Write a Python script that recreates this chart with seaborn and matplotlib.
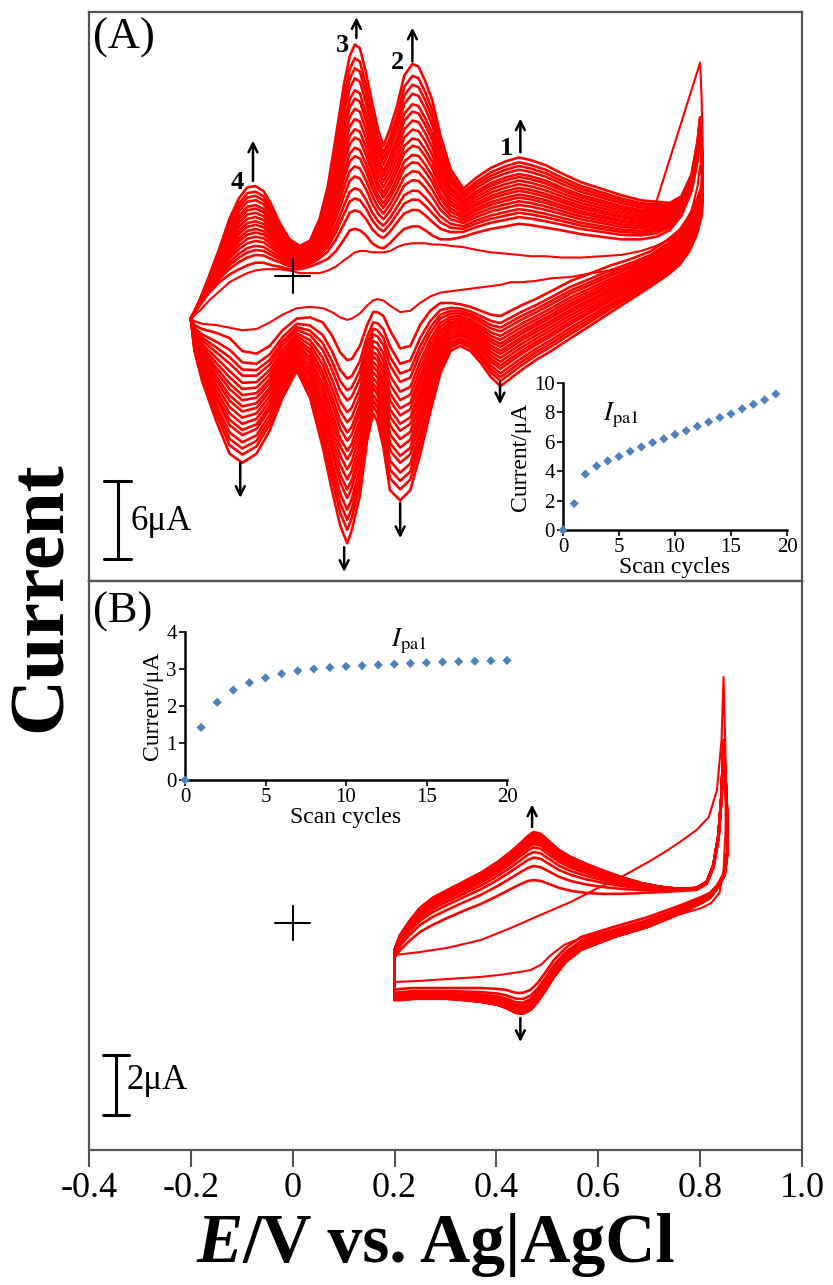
import numpy as np
import pandas as pd
import matplotlib
matplotlib.use('Agg')
import matplotlib.pyplot as plt
import seaborn as sns

# ---------------- Panel A (CV, 19 cycles) ----------------
A_an_E = [-0.200, -0.183, -0.164, -0.144, -0.124, -0.105, -0.089, -0.073, -0.057, -0.041,
          -0.026, -0.006, 0.014, 0.034, 0.053, 0.069, 0.085, 0.101, 0.112, 0.122,
          0.132, 0.144, 0.156, 0.168, 0.178, 0.191, 0.205, 0.219, 0.235, 0.247,
          0.260, 0.274, 0.290, 0.310, 0.335, 0.359, 0.389, 0.418, 0.444, 0.467,
          0.497, 0.527, 0.566, 0.606, 0.645, 0.684, 0.714, 0.740, 0.763, 0.783,
          0.795, 0.800]
A_an_last = [-3.3, -1.9, 0.0, 2.1, 4.4, 6.0, 6.8, 6.9, 6.5, 5.4,
             4.1, 2.8, 2.3, 2.7, 4.4, 6.9, 10.8, 14.8, 16.9, 17.8,
             17.5, 15.6, 13.3, 11.2, 10.0, 11.3, 13.1, 15.4, 16.3, 16.1,
             15.0, 13.5, 10.8, 8.2, 6.7, 7.5, 8.3, 8.8, 9.1, 8.9,
             8.5, 7.9, 7.2, 6.7, 6.2, 5.8, 5.7, 5.6, 6.1, 7.8,
             10.4, 12.2]
A_an_cyc2 = [-3.3, -2.3, -1.3, -0.5, 0.1, 0.5, 0.8, 1.0, 1.0, 0.8,
             0.7, 0.5, 0.5, 0.7, 1.0, 1.3, 1.9, 2.8, 3.5, 3.6,
             3.5, 3.1, 2.5, 2.2, 2.1, 2.5, 3.1, 3.6, 3.8, 3.8,
             3.5, 3.1, 2.8, 2.8, 3.0, 3.3, 3.6, 3.8, 4.0, 3.9,
             3.7, 3.5, 3.2, 3.0, 2.8, 2.8, 3.0, 3.5, 4.6, 6.5,
             8.8, 11.2]
A_an_cyc1 = [-3.3, -2.7, -1.9, -1.2, -0.5, -0.1, 0.2, 0.4, 0.5, 0.5,
             0.5, 0.4, 0.2, 0.2, 0.2, 0.4, 0.7, 1.2, 1.5, 1.8,
             1.9, 1.9, 1.8, 1.8, 1.8, 1.9, 2.2, 2.4, 2.5, 2.5,
             2.5, 2.4, 2.4, 2.3, 2.2, 2.0, 1.8, 1.7, 1.6, 1.5,
             1.5, 1.4, 1.4, 1.5, 1.6, 1.9, 2.3, 2.8, 3.6, 5.0,
             6.9, 8.5]
A_ca_E = [0.800, 0.803, 0.805, 0.803, 0.793, 0.779, 0.759, 0.734, 0.704, 0.665,
          0.625, 0.586, 0.546, 0.507, 0.477, 0.448, 0.428, 0.408, 0.389, 0.369,
          0.349, 0.329, 0.310, 0.290, 0.270, 0.250, 0.231, 0.211, 0.191, 0.178,
          0.166, 0.158, 0.146, 0.132, 0.116, 0.107, 0.093, 0.077, 0.059, 0.034,
          0.008, -0.020, -0.045, -0.071, -0.099, -0.124, -0.150, -0.178, -0.193, -0.200]
A_ca_last = [12.2, 9.6, 6.5, 4.6, 3.1, 1.9, 0.8, 0.0, -0.8, -1.8,
             -2.8, -3.8, -4.8, -5.8, -6.5, -7.3, -7.9, -8.5, -7.8, -6.7,
             -5.8, -5.4, -5.8, -7.5, -10.5, -13.8, -16.5, -17.3, -16.5, -13.2,
             -11.2, -10.6, -12.7, -16.9, -19.6, -20.6, -19.2, -16.5, -13.2, -9.4,
             -7.3, -9.4, -11.9, -13.7, -14.4, -13.7, -11.2, -8.1, -5.8, -3.3]
A_ca_cyc2 = [11.2, 10.0, 8.5, 6.9, 5.8, 4.6, 3.5, 2.7, 1.9, 1.3,
             0.8, 0.2, -0.4, -1.2, -1.8, -2.3, -2.7, -3.1, -3.0, -2.7,
             -2.4, -2.2, -2.1, -2.1, -2.7, -3.8, -5.4, -5.6, -4.2, -3.1,
             -2.8, -2.8, -3.8, -5.4, -6.4, -6.5, -5.9, -4.6, -3.6, -3.2,
             -3.3, -4.2, -5.4, -6.0, -5.8, -4.8, -4.4, -4.1, -3.8, -3.3]
A_ca_cyc1 = [8.5, 7.7, 6.5, 5.4, 4.2, 3.3, 2.3, 1.5, 1.0, 0.6,
             0.4, 0.2, -0.1, -0.2, -0.4, -0.5, -0.5, -0.7, -0.8, -0.9,
             -1.0, -1.1, -1.2, -1.3, -1.6, -2.1, -2.7, -2.8, -2.3, -1.9,
             -1.8, -1.9, -2.3, -2.9, -3.3, -3.4, -3.2, -2.8, -2.5, -2.4,
             -2.5, -3.0, -3.6, -4.1, -4.2, -4.0, -3.8, -3.7, -3.5, -3.3]
A_spike_E = [0.714, 0.800, 0.803, 0.805]
A_spike_I = [5.7, 16.4, 13.5, 9.6]

# inset A: Ipa1 vs scan cycles
A_cycles = list(range(0, 20))
A_ipa = [0, 1.8, 3.8, 4.35, 4.7, 5.0, 5.35, 5.65, 5.95, 6.2,
         6.5, 6.75, 7.05, 7.35, 7.65, 7.9, 8.25, 8.55, 8.85, 9.25]

# ---------------- Panel B (CV, 20 cycles) ----------------
B_an_E = [0.200, 0.200, 0.211, 0.231, 0.250, 0.274, 0.304, 0.335, 0.369, 0.402,
          0.428, 0.448, 0.462, 0.473, 0.487, 0.503, 0.523, 0.546, 0.576, 0.606,
          0.645, 0.684, 0.724, 0.763, 0.793, 0.813, 0.826, 0.836, 0.842, 0.846]
B_an_last = [-2.57, -0.90, -0.40, 0.10, 0.50, 0.83, 1.10, 1.37, 1.67, 2.03,
             2.37, 2.67, 2.90, 3.03, 2.97, 2.73, 2.43, 2.20, 1.97, 1.77,
             1.53, 1.33, 1.20, 1.13, 1.17, 1.37, 1.93, 2.93, 4.27, 6.10]
B_an_cyc2 = [-2.23, -1.17, -0.90, -0.57, -0.30, -0.07, 0.17, 0.40, 0.63, 0.90,
             1.13, 1.30, 1.40, 1.43, 1.40, 1.30, 1.17, 1.07, 1.00, 0.97,
             0.97, 1.00, 1.03, 1.07, 1.10, 1.30, 1.83, 2.77, 4.10, 5.43]
B_ca_E = [0.846, 0.852, 0.854, 0.848, 0.834, 0.819, 0.803, 0.763, 0.698, 0.631,
          0.566, 0.536, 0.513, 0.497, 0.481, 0.467, 0.452, 0.438, 0.418, 0.402,
          0.369, 0.335, 0.304, 0.270, 0.237, 0.211, 0.200]
B_ca_last = [6.10, 4.10, 2.43, 1.60, 1.17, 0.83, 0.67, 0.33, -0.13, -0.47,
             -0.90, -1.30, -1.80, -2.23, -2.63, -2.90, -3.03, -3.00, -2.83, -2.73,
             -2.63, -2.57, -2.53, -2.53, -2.53, -2.57, -2.57]
B_ca_cyc2 = [5.43, 3.77, 2.43, 1.70, 1.27, 1.00, 0.87, 0.60, 0.20, -0.13,
             -0.47, -0.83, -1.23, -1.63, -2.00, -2.23, -2.33, -2.33, -2.23, -2.20,
             -2.17, -2.17, -2.17, -2.17, -2.17, -2.20, -2.23]
B_cyc1_E = [0.200, 0.250, 0.304, 0.369, 0.428, 0.487, 0.546, 0.600, 0.645, 0.698,
            0.734, 0.763, 0.793, 0.817, 0.833, 0.842, 0.846, 0.850, 0.850, 0.846,
            0.838, 0.822, 0.803, 0.763, 0.698, 0.631, 0.566, 0.533, 0.507, 0.487,
            0.467, 0.448, 0.408, 0.369, 0.304, 0.250, 0.200, 0.200]
B_cyc1_I = [-1.07, -0.97, -0.83, -0.57, -0.17, 0.27, 0.70, 1.17, 1.53, 2.03,
            2.40, 2.73, 3.10, 3.53, 4.43, 6.10, 8.20, 5.43, 3.10, 1.77,
            1.00, 0.67, 0.50, 0.30, 0.03, -0.23, -0.50, -0.73, -1.07, -1.40,
            -1.57, -1.63, -1.73, -1.80, -1.87, -1.93, -1.97, -1.07]

# inset B: Ipa1 vs scan cycles
B_cycles = list(range(0, 21))
B_ipa = [0, 1.42, 2.1, 2.43, 2.63, 2.76, 2.87, 2.95, 3.0, 3.04, 3.07,
         3.09, 3.11, 3.13, 3.15, 3.17, 3.19, 3.2, 3.21, 3.22, 3.23]

x_ticks = [-0.4, -0.2, 0, 0.2, 0.4, 0.6, 0.8, 1.0]
x_ticklabels = ['-0.4', '-0.2', '0', '0.2', '0.4', '0.6', '0.8', '1.0']


def cycle_frame(ipa, an_E, an_lo, an_hi, ca_E, ca_lo, ca_hi):
    """cycles 2..n: each cycle placed between the read cycle-2 and last-cycle
    traces according to its own peak current from the inset."""
    E = np.r_[an_E, ca_E]
    lo = np.r_[an_lo, ca_lo]
    hi = np.r_[an_hi, ca_hi]
    base, top = ipa[2], ipa[-1]
    frames = []
    for k in range(2, len(ipa)):
        w = (ipa[k] - base) / (top - base)
        frames.append(pd.DataFrame({'E': E, 'I': lo + w * (hi - lo), 'cycle': k}))
    return pd.concat(frames, ignore_index=True)


sns.set_theme(style='white')
plt.rcParams['font.family'] = ['Liberation Serif', 'DejaVu Serif']
plt.rcParams['mathtext.fontset'] = 'stix'
for k in ('text.color', 'axes.labelcolor', 'xtick.color', 'ytick.color'):
    plt.rcParams[k] = 'black'

fig = plt.figure(figsize=(8.33, 12.85), dpi=100)
L, W = 89 / 833, 713 / 833
H = 569 / 1285
axA = fig.add_axes([L, 1 - 581 / 1285, W, H])
axB = fig.add_axes([L, 1 - 1150 / 1285, W, H])

RED = '#ff0000'
LW = 1.9

# ---- panel A curves ----
dfA = cycle_frame(A_ipa, A_an_E, A_an_cyc2, A_an_last, A_ca_E, A_ca_cyc2, A_ca_last)
sns.lineplot(data=dfA, x='E', y='I', units='cycle', estimator=None, sort=False,
             color=RED, lw=LW, ax=axA, legend=False)
dfA1 = pd.DataFrame({'E': A_an_E + A_ca_E, 'I': A_an_cyc1 + A_ca_cyc1})
sns.lineplot(data=dfA1, x='E', y='I', sort=False, estimator=None, color=RED, lw=1.5, ax=axA)
sns.lineplot(x=A_spike_E, y=A_spike_I, sort=False, estimator=None, color=RED, lw=1.5, ax=axA)

# ---- panel B curves ----
dfB = cycle_frame(B_ipa, B_an_E, B_an_cyc2, B_an_last, B_ca_E, B_ca_cyc2, B_ca_last)
sns.lineplot(data=dfB, x='E', y='I', units='cycle', estimator=None, sort=False,
             color=RED, lw=LW, ax=axB, legend=False)
sns.lineplot(x=B_cyc1_E, y=B_cyc1_I, sort=False, estimator=None, color=RED, lw=1.5, ax=axB)

SP = '#555555'
for ax in (axA, axB):
    ax.set_xlim(-0.4, 1.0)
    ax.set_xlabel('')
    ax.set_ylabel('')
    ax.set_yticks([])
    for s in ax.spines.values():
        s.set_color(SP)
        s.set_linewidth(1.6)
    ax.set_facecolor('none')
axA.set_ylim(-23.5, 20.3)
axB.set_ylim(-7.57, 11.4)
axA.set_xticks([])
axB.set_xticks(x_ticks)
axB.set_xticklabels(x_ticklabels, fontsize=26)
axB.tick_params(axis='x', direction='out', length=12, width=1.5, color=SP, pad=4,
                bottom=True, labelcolor='black')

# crosshairs at zero current / 0 V
for ax, dy in ((axA, 1.3), (axB, 0.57)):
    ax.plot([-0.034, 0.034], [0, 0], color='black', lw=1.5)
    ax.plot([0, 0], [-dy, dy], color='black', lw=1.5)

# scale bars
axA.plot([-0.343, -0.343], [-15.8, -21.8], color='black', lw=2.2)
axA.plot([-0.370, -0.318], [-15.8, -15.8], color='black', lw=2.2)
axA.plot([-0.370, -0.318], [-21.8, -21.8], color='black', lw=2.2)
axA.text(-0.318, -18.9, '6μA', fontsize=25, ha='left', va='center')
axB.plot([-0.347, -0.347], [-4.4, -6.4], color='black', lw=2.2)
axB.plot([-0.372, -0.322], [-4.4, -4.4], color='black', lw=2.2)
axB.plot([-0.372, -0.322], [-6.4, -6.4], color='black', lw=2.2)
axB.text(-0.327, -5.25, '2μA', fontsize=25, ha='left', va='center')

# panel letters
axA.text(0.005, 0.955, '(A)', transform=axA.transAxes, fontsize=32, ha='left', va='center')
axB.text(0.005, 0.945, '(B)', transform=axB.transAxes, fontsize=32, ha='left', va='center')

# peak labels and arrows
arrow_kw = dict(arrowstyle='->', lw=1.8, color='black', mutation_scale=16,
                shrinkA=0, shrinkB=0)
for (x, y0, y1) in [(-0.078, 7.3, 10.4), (0.125, 18.3, 19.9), (0.235, 16.5, 19.1),
                    (0.447, 9.5, 12.1), (0.407, -8.2, -9.9), (-0.103, -14.4, -17.1),
                    (0.101, -20.9, -22.8), (0.211, -17.5, -20.2)]:
    axA.annotate('', xy=(x, y1), xytext=(x, y0), arrowprops=arrow_kw)
for (x, y, t) in [(-0.109, 7.2, '4'), (0.097, 17.7, '3'), (0.205, 16.4, '2'), (0.419, 9.8, '1')]:
    axA.text(x, y, t, fontsize=19, fontweight='bold', ha='center', va='center')
axB.annotate('', xy=(0.470, 3.95), xytext=(0.470, 3.2), arrowprops=arrow_kw)
axB.annotate('', xy=(0.447, -3.97), xytext=(0.447, -3.17), arrowprops=arrow_kw)

# ---- insets ----
BLUE = '#4f81bd'
insA = fig.add_axes([563 / 833, 1 - 530 / 1285, 224 / 833, 147 / 1285])
insB = fig.add_axes([185 / 833, 1 - 780 / 1285, 322 / 833, 148 / 1285])
for ins, cyc, ipa, ymax, ystep, lab in ((insA, A_cycles, A_ipa, 10, 2, (3.6, 7.8)),
                                       (insB, B_cycles, B_ipa, 4, 1, (12.8, 3.75))):
    sns.scatterplot(x=cyc, y=ipa, marker='D', color=BLUE, s=22, edgecolor='none',
                    ax=ins, clip_on=False, zorder=5)
    ins.set_xlim(0, 20)
    ins.set_ylim(0, ymax)
    ins.set_xticks([0, 5, 10, 15, 20])
    ins.set_yticks(np.arange(0, ymax + 0.1, ystep))
    ins.set_facecolor('none')
    for s in ('top', 'right'):
        ins.spines[s].set_visible(False)
    for s in ('left', 'bottom'):
        ins.spines[s].set_color('black')
        ins.spines[s].set_linewidth(1.8)
    ins.tick_params(direction='out', length=4, width=1.2, color='black',
                    labelsize=15, pad=2, left=True, bottom=True, labelcolor='black')
    ins.set_xlabel('Scan cycles', fontsize=17, labelpad=0)
    ins.set_ylabel('Current/μA', fontsize=17, labelpad=2)
    ins.text(lab[0], lab[1], r'$I_{\mathrm{pa1}}$', fontsize=19, ha='left', va='center')

# ---- axis titles ----
yb = 1 - 1262 / 1285
fig.text(243 / 833, yb, 'E', fontsize=50, fontweight='bold', fontstyle='italic',
         ha='right', va='baseline')
fig.text(243 / 833, yb, '/V vs. Ag|AgCl', fontsize=50, fontweight='bold',
         ha='left', va='baseline')
fig.text(42 / 833, 1 - 597 / 1285, 'Current', rotation=90, fontsize=56,
         fontweight='bold', ha='center', va='center')

fig.savefig('out.png', dpi=100, facecolor='white')
